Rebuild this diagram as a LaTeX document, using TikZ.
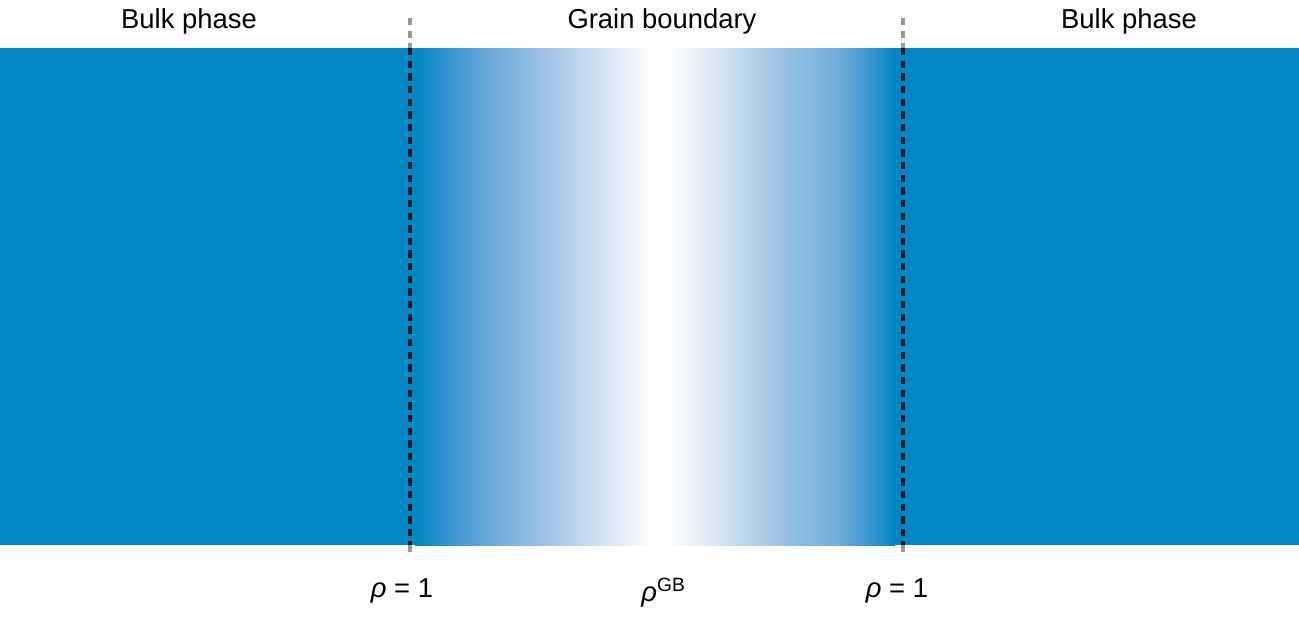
\documentclass[tikz,border=0pt]{standalone}
\usepackage{fontspec}
\setmainfont{Liberation Sans}
\usepackage{tikz}
\definecolor{bulk}{HTML}{0086C3}
\definecolor{gbA}{HTML}{3A97CF}
\definecolor{gbB}{HTML}{6BABDA}
\definecolor{gbC}{HTML}{9CC2E4}
\definecolor{gbD}{HTML}{D2E3F2}
\definecolor{gbE}{HTML}{F4F8FC}
\tikzset{
  label/.style={font=\fontsize{7.8}{9}\selectfont,inner sep=0pt},
  border/.style={dash pattern=on 2.1pt off 1.5pt,line width=1.05pt}
}

\begin{document}
\begin{tikzpicture}[x=0.1mm,y=-0.1mm]
  \useasboundingbox (0,0) rectangle (1299,616);
  % bulk phases on both sides
  \fill[bulk] (0,48) rectangle (416,545);
  \fill[bulk] (894,48) rectangle (1299,545);
  % grain boundary: blue -> white -> blue
  \shade[left color=bulk,right color=gbA] (415,48) rectangle (452,545);
  \shade[left color=gbA,right color=gbB] (451,48) rectangle (492,545);
  \shade[left color=gbB,right color=gbC] (491,48) rectangle (542,545);
  \shade[left color=gbC,right color=gbD] (541,48) rectangle (602,545);
  \shade[left color=gbD,right color=gbE] (601,48) rectangle (641,545);
  \shade[left color=gbE,right color=white] (640,48) rectangle (651,545);
  \fill[white] (650,48) rectangle (668,545);
  \shade[left color=white,right color=gbD] (667,48) rectangle (722,545);
  \shade[left color=gbD,right color=gbC] (721,48) rectangle (782,545);
  \shade[left color=gbC,right color=gbB] (781,48) rectangle (842,545);
  \shade[left color=gbB,right color=gbA] (841,48) rectangle (870,545);
  \shade[left color=gbA,right color=bulk] (869,48) rectangle (895,545);
  % phase limits
  \coordinate (lt) at (410,18);
  \coordinate (lb) at (410,557);
  \coordinate (rt) at (903,18);
  \coordinate (rb) at (903,557);
  \draw[border,black!40] (lt) -- (410,48);
  \draw[border,black!90] (410,48) -- (410,545);
  \draw[border,black!40] (410,545) -- (lb);
  \draw[border,black!40] (rt) -- (903,48);
  \draw[border,black!90] (903,48) -- (903,545);
  \draw[border,black!40] (903,545) -- (rb);
  % labels
  \node[label] (bulkL) at (189,21) {Bulk phase};
  \node[label] (gb) at (662,21) {Grain boundary};
  \node[label] (bulkR) at (1129,21) {Bulk phase};
  \node[label] (rhoL) at (402,591) {\itshape ρ\upshape\ = 1};
  \node[label] (rhoGB) at (664,593) {\itshape ρ\upshape\textsuperscript{GB}};
  \node[label] (rhoR) at (897,591) {\itshape ρ\upshape\ = 1};
\end{tikzpicture}
\end{document}
